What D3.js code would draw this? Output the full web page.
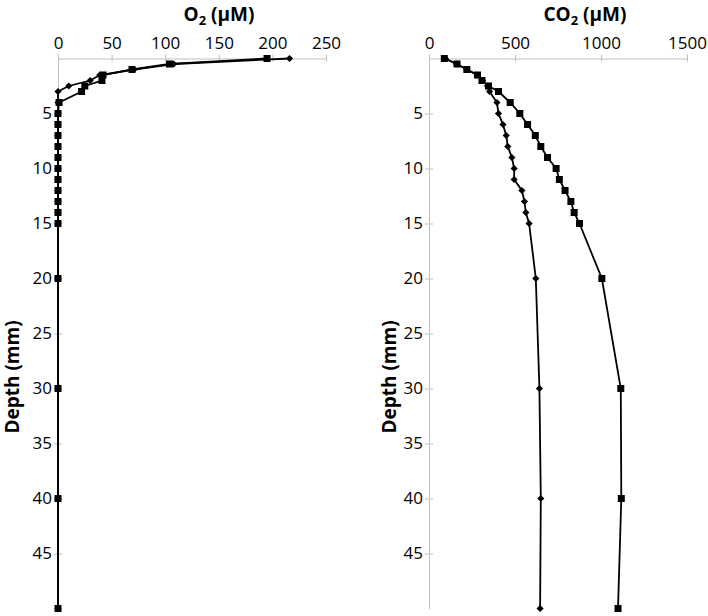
<!DOCTYPE html>
<html>
<head>
<meta charset="utf-8">
<script src="https://cdn.jsdelivr.net/npm/d3@7"></script>
<style>
	body { margin: 0; background: #fff; }
	svg text { font-family: "Open Sans", "Noto Sans", sans-serif; fill: #000; }
</style>
</head>
<body>
<div id="chart"></div>
<script>
// Depths sampled (mm)
var depths = [0, 0.5, 1, 1.5, 2, 2.5, 3, 4, 5, 6, 7, 8, 9, 10, 11, 12, 13, 14, 15, 20, 30, 40, 50];

// O2 (uM), two profiles
var o2Diamond = [216, 108, 71, 39, 30, 10, 0, 0, 0, 0, 0, 0, 0, 0, 0, 0, 0, 0, 0, 0, 0, 0, 0];
var o2Square  = [195, 104, 69, 42, 41, 25, 22, 1, 0, 0, 0, 0, 0, 0, 0, 0, 0, 0, 0, 0, 0, 0, 0];

// CO2 (uM), two profiles
var co2Diamond = [95, 160, 220, 280, 312, 340, 352, 395, 404, 430, 449, 458, 482, 495, 495, 540, 555, 563, 582, 621, 642, 650, 646];
var co2Square  = [89, 163, 220, 282, 308, 346, 404, 472, 528, 573, 618, 650, 689, 739, 758, 791, 825, 844, 875, 1005, 1115, 1118, 1099];

var o2Ticks = [0, 50, 100, 150, 200, 250];
var co2Ticks = [0, 500, 1000, 1500];
var depthTicks = [5, 10, 15, 20, 25, 30, 35, 40, 45];

var width = 708, height = 616;

var svg = d3.select("#chart").append("svg")
	.attr("width", width)
	.attr("height", height);

function drawPanel(cfg) {
	var x = d3.scaleLinear().domain(cfg.domain).range([cfg.left, cfg.right]);
	var y = d3.scaleLinear().domain([0, 50]).range([58.5, 608.5]);

	var g = svg.append("g");

	// x axis on top
	var xAxis = g.append("g")
		.attr("transform", "translate(0," + y(0) + ")")
		.call(d3.axisTop(x).tickValues(cfg.ticks).tickFormat(d3.format("d"))
			.tickSize(4).tickSizeOuter(0).tickPadding(6));
	xAxis.select(".domain").attr("stroke", "#bfbfbf");
	xAxis.selectAll(".tick line").attr("stroke", "#bfbfbf").attr("y2", -4).attr("y1", 3);
	xAxis.selectAll(".tick text")
		.attr("font-size", 17)
		.attr("font-family", "Open Sans");

	// y axis (depth downwards)
	var yAxis = g.append("g")
		.attr("transform", "translate(" + x(0) + ",0)")
		.call(d3.axisLeft(y).tickValues(depthTicks).tickSize(4).tickSizeOuter(0).tickPadding(2));
	yAxis.select(".domain").attr("stroke", "#bfbfbf");
	yAxis.selectAll(".tick line").attr("stroke", "#bfbfbf").attr("x1", 4);
	yAxis.selectAll(".tick text")
		.attr("font-size", 17)
		.attr("font-family", "Open Sans");

	// titles
	var title = g.append("text")
		.attr("x", cfg.titleX)
		.attr("y", 21)
		.attr("text-anchor", "middle")
		.attr("font-size", 19)
		.attr("font-weight", "bold");
	title.append("tspan").text(cfg.title);
	title.append("tspan").attr("font-size", 13).attr("dy", 4).text("2");
	title.append("tspan").attr("dy", -4).text(" (\u03bcM)");

	g.append("text")
		.attr("transform", "translate(" + cfg.labelX + ",377) rotate(-90)")
		.attr("text-anchor", "middle")
		.attr("dy", "0.35em")
		.attr("font-size", 19)
		.attr("font-weight", "bold")
		.text("Depth (mm)");

	var line = d3.line()
		.x(function(d) { return x(d[1]); })
		.y(function(d) { return y(d[0]); });

	cfg.series.forEach(function(s) {
		var pts = depths.map(function(d, i) { return [d, s.values[i]]; });

		g.append("path")
			.datum(pts)
			.attr("fill", "none")
			.attr("stroke", "#000")
			.attr("stroke-width", 1.8)
			.attr("d", line);

		if (s.marker === "square") {
			g.selectAll(null)
				.data(pts)
				.enter()
				.append("rect")
				.attr("x", function(d) { return x(d[1]) - 3.5; })
				.attr("y", function(d) { return y(d[0]) - 3.5; })
				.attr("width", 7)
				.attr("height", 7)
				.attr("fill", "#000");
		} else {
			g.selectAll(null)
				.data(pts)
				.enter()
				.append("path")
				.attr("transform", function(d) { return "translate(" + x(d[1]) + "," + y(d[0]) + ")"; })
				.attr("d", "M0,-3.6L3.6,0L0,3.6L-3.6,0Z")
				.attr("fill", "#000");
		}
	});
}

drawPanel({
	domain: [0, 250],
	left: 58, right: 326,
	ticks: o2Ticks,
	title: "O",
	titleX: 219,
	labelX: 12,
	series: [
		{ values: o2Diamond, marker: "diamond" },
		{ values: o2Square, marker: "square" }
	]
});

drawPanel({
	domain: [0, 1500],
	left: 429, right: 687,
	ticks: co2Ticks,
	title: "CO",
	titleX: 585,
	labelX: 389,
	series: [
		{ values: co2Diamond, marker: "diamond" },
		{ values: co2Square, marker: "square" }
	]
});
</script>
</body>
</html>
